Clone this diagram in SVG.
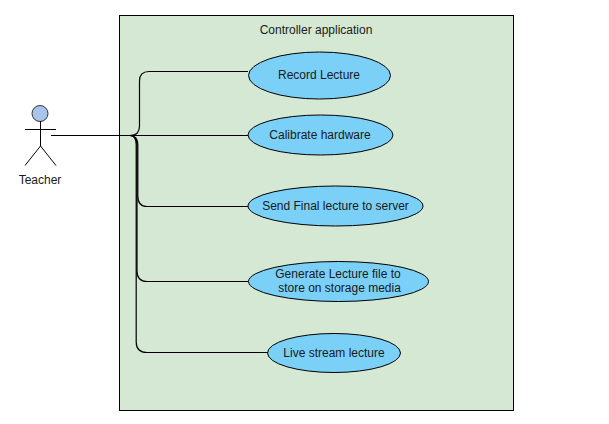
<svg xmlns="http://www.w3.org/2000/svg" width="609" height="424" viewBox="0 0 609 424">
<style>
text{font-family:"Liberation Sans",Arial,sans-serif;font-size:12px;fill:#1a1a1a;text-anchor:middle}
.uc{fill:#7ad0f7;stroke:#000;stroke-width:1}
.c{fill:none;stroke:#000;stroke-width:1.200}
.a{fill:none;stroke:#000;stroke-width:1}
</style>
<rect width="609" height="424" fill="#fff"/>
<g id="system"><rect x="119.500" y="15.500" width="394" height="395" fill="#d5e8d4" stroke="#000"/>
<text x="316" y="34">Controller application</text></g>
<g id="connectors">
<path class="c" d="M51 135.500H130Q139.500 135.500 139.500 126V81Q139.500 71.500 149 71.500H248"/>
<path class="c" d="M51 135.500H248"/>
<path class="c" d="M130 135.500Q137.800 135.500 137.800 145V196Q137.800 206.500 147 206.500H248"/>
<path class="c" d="M130 135.500Q137 135.500 137 145V271Q137 281.500 147 281.500H248"/>
<path class="c" d="M130 135.500Q136.200 135.500 136.200 145V342Q136.200 352.500 147 352.500H268"/>
</g>
<g id="teacher">
<circle cx="40" cy="113.500" r="8" fill="#a9c4eb" stroke="#333"/>
<path class="a" d="M40.500 121V146M25 129.500H56M25 165.500L40.500 146L56 165.500"/>
<text x="40" y="184">Teacher</text>
</g>
<g id="record"><ellipse class="uc" cx="319.500" cy="75.500" rx="71" ry="23.500"/><text x="319" y="79">Record Lecture</text></g>
<g id="calibrate"><ellipse class="uc" cx="320.500" cy="135" rx="72.500" ry="20"/><text x="320" y="139">Calibrate hardware</text></g>
<g id="send"><ellipse class="uc" cx="335.500" cy="206" rx="87.500" ry="20"/><text x="335.500" y="210">Send Final lecture to server</text></g>
<g id="generate"><ellipse class="uc" cx="338.500" cy="281.500" rx="90" ry="20"/><text x="338" y="278">Generate Lecture file to</text><text x="339.500" y="292">store on storage media</text></g>
<g id="live"><ellipse class="uc" cx="334" cy="353" rx="66.500" ry="19.500"/><text x="334" y="357">Live stream lecture</text></g>
</svg>
